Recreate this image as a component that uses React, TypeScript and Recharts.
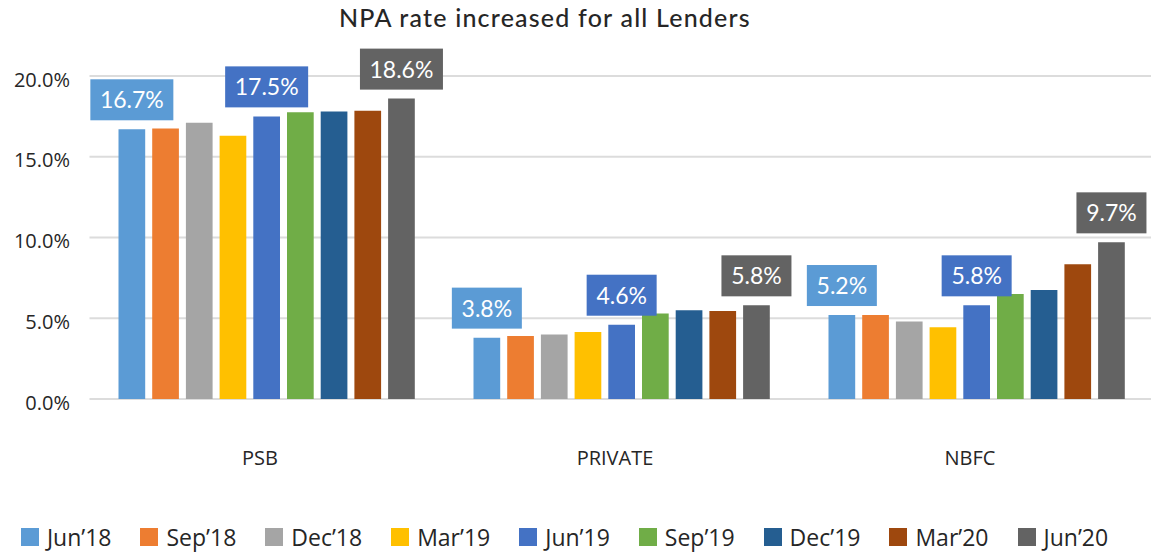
import React from "react";
import { BarChart, Bar, XAxis, YAxis, CartesianGrid, Legend, LabelList } from "recharts";

const categories = ["PSB", "PRIVATE", "NBFC"];
const periods = ["Jun’18", "Sep’18", "Dec’18", "Mar’19", "Jun’19", "Sep’19", "Dec’19", "Mar’20", "Jun’20"];
const jun18 = [16.7, 3.8, 5.2];
const sep18 = [16.75, 3.9, 5.2];
const dec18 = [17.1, 4.0, 4.8];
const mar19 = [16.3, 4.15, 4.45];
const jun19 = [17.5, 4.6, 5.8];
const sep19 = [17.75, 5.3, 6.5];
const dec19 = [17.8, 5.5, 6.75];
const mar20 = [17.85, 5.45, 8.35];
const jun20 = [18.6, 5.8, 9.7];
const yTicks = [0, 5, 10, 15, 20];
const colors = ["#5B9BD5", "#ED7D31", "#A5A5A5", "#FFC000", "#4472C4", "#70AD47", "#255E91", "#9E480E", "#636363"];
const labeled = ["Jun’18", "Jun’19", "Jun’20"];

const seriesValues = [jun18, sep18, dec18, mar19, jun19, sep19, dec19, mar20, jun20];
const data = categories.map((c, i) => {
  const row: any = { name: c };
  periods.forEach((p, k) => { row[p] = seriesValues[k][i]; });
  return row;
});

const AXIS_FONT = "'Open Sans', 'Noto Sans', sans-serif";

const makeLabel = (color: string) => (props: any) => {
  const x = Number(props.x), y = Number(props.y), width = Number(props.width);
  const value = Number(props.value);
  const cx = x + width / 2;
  const text = value.toFixed(1) + "%";
  const w = text.length * 13 + 18;
  const h = 41;
  const bottom = y - 9;
  return (
    <g>
      <rect x={cx - w / 2} y={bottom - h} width={w} height={h} fill={color} />
      <text x={cx} y={bottom - h / 2 + 8.5} textAnchor="middle" fill="#ffffff" fontSize={23} fontFamily="Lato, sans-serif">
        {text}
      </text>
    </g>
  );
};

const XTick = (props: any) => {
  const { x, payload } = props;
  return (
    <text x={x - 7} y={399 + 66} textAnchor="middle" fill="#262626" fontSize={20} fontFamily={AXIS_FONT}>
      {payload.value}
    </text>
  );
};

const YTick = (props: any) => {
  const { y, payload } = props;
  return (
    <text x={70} y={y + 10.5} textAnchor="end" fill="#262626" fontSize={20} fontFamily={AXIS_FONT}>
      {Number(payload.value).toFixed(1) + "%"}
    </text>
  );
};

const LegendContent = () => (
  <div style={{ display: "flex", justifyContent: "center", alignItems: "center", height: 36, width: 1129 }}>
    {periods.map((p, i) => (
      <div key={p} style={{ display: "flex", alignItems: "center", marginRight: i < periods.length - 1 ? 29 : 0 }}>
        <div style={{ width: 18, height: 18, background: colors[i], marginRight: 8 }} />
        <span style={{ fontSize: 23, fontFamily: AXIS_FONT, color: "#262626", lineHeight: "36px" }}>{p}</span>
      </div>
    ))}
  </div>
);

export default function App() {
  return (
    <div style={{ position: "absolute", left: 0, top: 0, width: 1151, height: 555, overflow: "hidden", background: "#fff" }}>
      <div style={{ position: "absolute", left: 339, top: 1, whiteSpace: "nowrap", fontFamily: "Lato, sans-serif", fontWeight: 500, fontSize: 25, letterSpacing: 1.2, color: "#262626", lineHeight: "32px" }}>
        NPA rate increased for all Lenders
      </div>
      <BarChart
        width={1160}
        height={555}
        data={data}
        margin={{ top: 76, right: 5.5, left: 0, bottom: 0 }}
        barSize={26.7}
        barGap={7}
      >
        <CartesianGrid vertical={false} stroke="#dcdcdc" strokeWidth={2} />
        <XAxis dataKey="name" axisLine={false} tickLine={false} height={120} tick={<XTick />} interval={0} />
        <YAxis width={89.5} domain={[0, 20]} ticks={yTicks} axisLine={false} tickLine={false} tick={<YTick />} interval={0} />
        <Legend verticalAlign="bottom" content={<LegendContent />} wrapperStyle={{ left: 0, bottom: 0, width: 1129 }} />
        {periods.map((p, i) => (
          <Bar key={p} dataKey={p} fill={colors[i]} isAnimationActive={false}>
            {labeled.includes(p) ? <LabelList dataKey={p} content={makeLabel(colors[i])} /> : null}
          </Bar>
        ))}
      </BarChart>
    </div>
  );
}
